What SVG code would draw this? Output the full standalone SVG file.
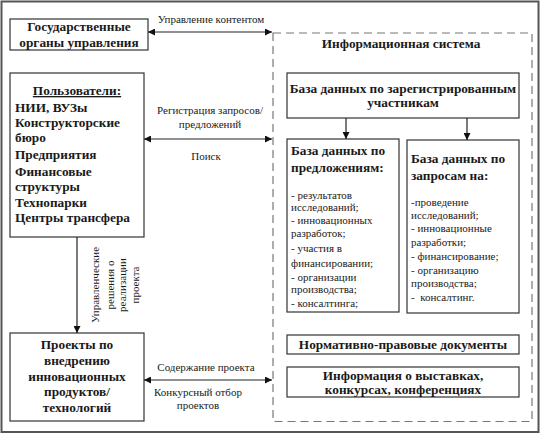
<svg xmlns="http://www.w3.org/2000/svg" width="542" height="435" viewBox="0 0 542 435" font-family="Liberation Serif, serif">
<defs>
<style>
text{fill:#1a1a1a}
.b{font-weight:bold;font-size:13.3px}
.r{font-size:11px}
.c{text-anchor:middle}
.box{fill:#fff;stroke:#333;stroke-width:1.2}
.ln{stroke:#222;stroke-width:1.2;fill:none}
</style>
<marker id="ah" viewBox="0 0 10 10" refX="10" refY="5" markerWidth="9" markerHeight="7" markerUnits="userSpaceOnUse" orient="auto-start-reverse">
<path d="M0,0 L10,5 L0,10 Z" fill="#111"/>
</marker>
</defs>
<rect x="0" y="0" width="542" height="435" fill="#fff"/>
<rect x="1.5" y="1.5" width="537" height="430.5" fill="none" stroke="#555" stroke-width="2"/>

<g id="info-system">
<rect x="273" y="33" width="259" height="388.5" fill="none" stroke="#777" stroke-width="1.2" stroke-dasharray="8,5"/>
<text class="b c" x="401" y="48">Информационная система</text>
</g>

<g id="gov">
<rect class="box" x="10" y="19" width="138" height="31"/>
<text class="b c" x="79" y="31">Государственные</text>
<text class="b c" x="79" y="47">органы управления</text>
</g>

<g id="users">
<rect class="box" x="10" y="73" width="134" height="164"/>
<text class="b c" x="77" y="95" text-decoration="underline">Пользователи:</text>
<text class="b" x="15" y="112">НИИ, ВУЗы</text>
<text class="b" x="15" y="127">Конструкторские</text>
<text class="b" x="15" y="142">бюро</text>
<text class="b" x="15" y="159">Предприятия</text>
<text class="b" x="15" y="176">Финансовые</text>
<text class="b" x="15" y="191">структуры</text>
<text class="b" x="15" y="207">Технопарки</text>
<text class="b" x="15" y="222">Центры трансфера</text>
</g>

<g id="projects">
<rect class="box" x="10" y="333" width="134" height="88"/>
<text class="b c" x="77" y="349">Проекты по</text>
<text class="b c" x="77" y="365">внедрению</text>
<text class="b c" x="77" y="381">инновационных</text>
<text class="b c" x="77" y="396">продуктов/</text>
<text class="b c" x="77" y="412">технологий</text>
</g>

<g id="db-participants">
<rect class="box" x="287" y="73" width="232" height="45"/>
<text class="b c" x="403" y="93">База данных по зарегистрированным</text>
<text class="b c" x="403" y="107">участникам</text>
</g>

<g id="db-offers">
<rect class="box" x="287" y="139" width="112" height="173"/>
<text class="b" x="291" y="155">База данных по</text>
<text class="b" x="291" y="172">предложениям:</text>
<text class="r" x="291" y="199">- результатов</text>
<text class="r" x="291" y="211">исследований;</text>
<text class="r" x="291" y="224">- инновационных</text>
<text class="r" x="291" y="237">разработок;</text>
<text class="r" x="291" y="252">- участия в</text>
<text class="r" x="291" y="267">финансировании;</text>
<text class="r" x="291" y="281">- организации</text>
<text class="r" x="291" y="293">производства;</text>
<text class="r" x="291" y="307">- консалтинга;</text>
</g>

<g id="db-requests">
<rect class="box" x="407" y="140" width="112" height="173"/>
<text class="b" x="411" y="163">База данных по</text>
<text class="b" x="411" y="180">запросам на:</text>
<text class="r" x="411" y="206">-проведение</text>
<text class="r" x="411" y="219">исследований;</text>
<text class="r" x="411" y="232">- инновационные</text>
<text class="r" x="411" y="246">разработки;</text>
<text class="r" x="411" y="260">- финансирование;</text>
<text class="r" x="411" y="274">- организацию</text>
<text class="r" x="411" y="287">производства;</text>
<text class="r" x="411" y="301" xml:space="preserve">-  консалтинг.</text>
</g>

<g id="normative">
<rect class="box" x="287" y="335" width="232" height="19"/>
<text class="b c" x="403" y="349">Нормативно-правовые документы</text>
</g>

<g id="events">
<rect class="box" x="287" y="367" width="232" height="30"/>
<text class="b c" x="403" y="380">Информация о выставках,</text>
<text class="b c" x="403" y="394">конкурсах, конференциях</text>
</g>

<g id="connectors">
<line class="ln" x1="148" y1="32" x2="272" y2="32" marker-start="url(#ah)" marker-end="url(#ah)"/>
<text class="r c" x="211" y="23">Управление контентом</text>
<line class="ln" x1="144" y1="139" x2="272" y2="139" marker-start="url(#ah)" marker-end="url(#ah)"/>
<text class="r c" x="210" y="114">Регистрация запросов/</text>
<text class="r c" x="210" y="128">предложений</text>
<text class="r c" x="206" y="160">Поиск</text>
<line class="ln" x1="144" y1="380" x2="272" y2="380" marker-start="url(#ah)" marker-end="url(#ah)"/>
<text class="r c" x="206" y="371">Содержание проекта</text>
<text class="r c" x="198" y="396">Конкурсный отбор</text>
<text class="r c" x="198" y="409">проектов</text>
<line class="ln" x1="77" y1="237" x2="77" y2="333" marker-end="url(#ah)"/>
<text class="r c" transform="translate(99,285) rotate(-90)">Управленческие</text>
<text class="r c" transform="translate(114,285) rotate(-90)">решения о</text>
<text class="r c" transform="translate(126,285) rotate(-90)">реализации</text>
<text class="r c" transform="translate(139,285) rotate(-90)">проекта</text>
<line class="ln" x1="346" y1="118" x2="346" y2="139" marker-end="url(#ah)"/>
<line class="ln" x1="467" y1="118" x2="467" y2="140" marker-end="url(#ah)"/>
</g>
</svg>
